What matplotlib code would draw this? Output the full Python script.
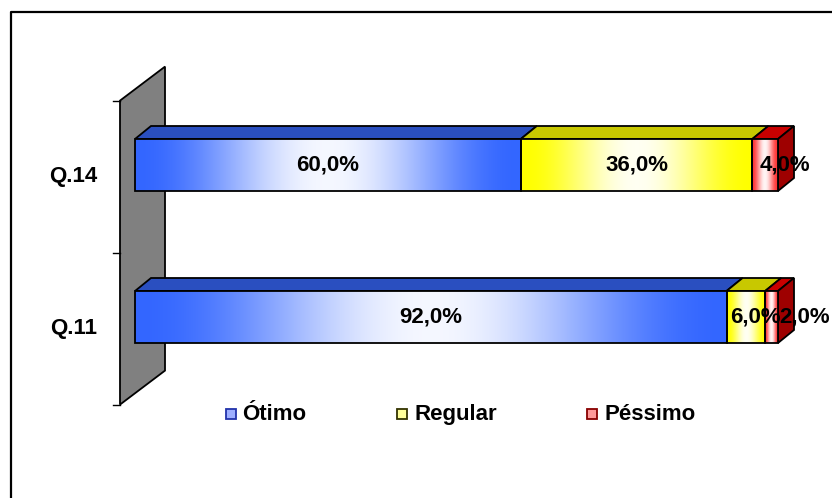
import numpy as np
import matplotlib
matplotlib.use('Agg')
import matplotlib.pyplot as plt
from matplotlib.patches import Polygon, Rectangle
from matplotlib.lines import Line2D
from matplotlib.transforms import IdentityTransform
from matplotlib.colors import to_rgb

# ---- data ----
categories = ['Q.11', 'Q.14']
series_names = ['Ótimo', 'Regular', 'Péssimo']
otimo = [92.0, 60.0]
regular = [6.0, 36.0]
pessimo = [2.0, 4.0]
value_labels_fmt = '{:.1f}%'

# ---- style ----
W, H = 832, 498
FONT = 'Liberation Sans'
FS = 16
LW = 1.3
front_cols = ['#3366FF', '#FFFF00', '#FF3333']
top_cols = ['#2A4FC0', '#C8C800', '#C80000']
side_col = '#9E0000'
marker_fill = ['#9DAEFF', '#FFFF99', '#FF9999']
marker_edge = ['#2233AA', '#333300', '#880000']
label_nudge = [[0, 0], [10, 0], [33, 20]]  # px, per series, per category
bar_h = 52 / 152
depth = (16, 13)        # px (right, up)
wall_shift = (-15, -11.6)
wall_depth = (45, 34)

fig = plt.figure(figsize=(W / 100, H / 100), dpi=100)
ax = fig.add_axes([135 / W, 105 / H, 643 / W, 304 / H])
ax.set_xlim(0, 100)
ax.set_ylim(-0.5, 1.5)
ax.axis('off')

T = ax.transData
I = IdentityTransform()
ypos = np.arange(len(categories))


def disp(x, y, dx=0.0, dy=0.0):
    p = T.transform((x, y))
    return (p[0] + dx, p[1] + dy)


def add(artist):
    artist.set_clip_on(False)
    ax.add_artist(artist)


# ---- wall ----
wb = disp(0, -0.5, *wall_shift)
wt = disp(0, 1.5, *wall_shift)
add(Polygon([wb, wt, (wt[0] + wall_depth[0], wt[1] + wall_depth[1]),
             (wb[0] + wall_depth[0], wb[1] + wall_depth[1])],
            closed=True, facecolor='#808080', edgecolor='black', lw=LW,
            transform=I, zorder=1))
for yv in [-0.5, 0.5, 1.5]:
    p = disp(0, yv, *wall_shift)
    add(Line2D([p[0] - 7, p[0]], [p[1], p[1]], color='black', lw=1.0,
               transform=I, zorder=1))

# category labels
for i, c in enumerate(categories):
    p = disp(0, ypos[i], *wall_shift)
    ax.text(p[0] - 23, p[1], c, transform=I, ha='right', va='center',
            fontsize=FS, fontweight='bold', family=FONT, clip_on=False)

# ---- bars ----
series = [otimo, regular, pessimo]
lefts = np.zeros(len(categories))
t = np.linspace(0, 1, 200)
wgt = 0.95 * np.sin(np.pi * t) ** 2
for s, vals in enumerate(series):
    vals = np.array(vals)
    base = np.array(to_rgb(front_cols[s]))
    grad = base[None, :] * (1 - wgt[:, None]) + wgt[:, None] * 1.0
    img = np.repeat(grad[None, :, :], 2, axis=0)
    bars = ax.barh(ypos, vals, left=lefts, height=bar_h, facecolor='none',
                   edgecolor='black', lw=LW, zorder=5)
    for i, b in enumerate(bars):
        b.set_clip_on(False)
        x0, x1 = lefts[i], lefts[i] + vals[i]
        y0, y1 = ypos[i] - bar_h / 2, ypos[i] + bar_h / 2
        im = ax.imshow(img, extent=(x0, x1, y0, y1), aspect='auto', zorder=4,
                       interpolation='bilinear')
        im.set_clip_path(b)
        # top face
        a = disp(x0, y1)
        bb = disp(x1, y1)
        add(Polygon([a, bb, (bb[0] + depth[0], bb[1] + depth[1]),
                     (a[0] + depth[0], a[1] + depth[1])], closed=True,
                    facecolor=top_cols[s], edgecolor='black', lw=LW,
                    transform=I, zorder=3))
        # value label
        lp = disp((x0 + x1) / 2, ypos[i], label_nudge[s][i], 0)
        ax.text(lp[0], lp[1], value_labels_fmt.format(vals[i]).replace('.', ','),
                transform=I, ha='center', va='center', clip_on=False,
                fontsize=FS, fontweight='bold', family=FONT, zorder=10)
    lefts = lefts + vals
ax.set_xlim(0, 100)
ax.set_ylim(-0.5, 1.5)

# side faces at the end of each bar
for i in range(len(categories)):
    a = disp(lefts[i], ypos[i] - bar_h / 2)
    bb = disp(lefts[i], ypos[i] + bar_h / 2)
    add(Polygon([a, bb, (bb[0] + depth[0], bb[1] + depth[1]),
                 (a[0] + depth[0], a[1] + depth[1])], closed=True,
                facecolor=side_col, edgecolor='black', lw=LW,
                transform=I, zorder=3))

# ---- legend ----
marker_x = [226, 397, 587]
text_x = [242, 414, 604]
ly = H - 414
for s, name in enumerate(series_names):
    fig.add_artist(Rectangle((marker_x[s], ly - 5), 10, 10, facecolor=marker_fill[s],
                             edgecolor=marker_edge[s], lw=1.3, transform=I))
    fig.text(text_x[s], ly, name, transform=I, ha='left', va='center',
             fontsize=FS, fontweight='bold', family=FONT)

# ---- outer frame ----
fig.add_artist(Line2D([11, 11, W + 5], [-5, H - 12, H - 12], color='black', lw=1.6,
                      transform=I))

fig.savefig('out.png', dpi=100)
